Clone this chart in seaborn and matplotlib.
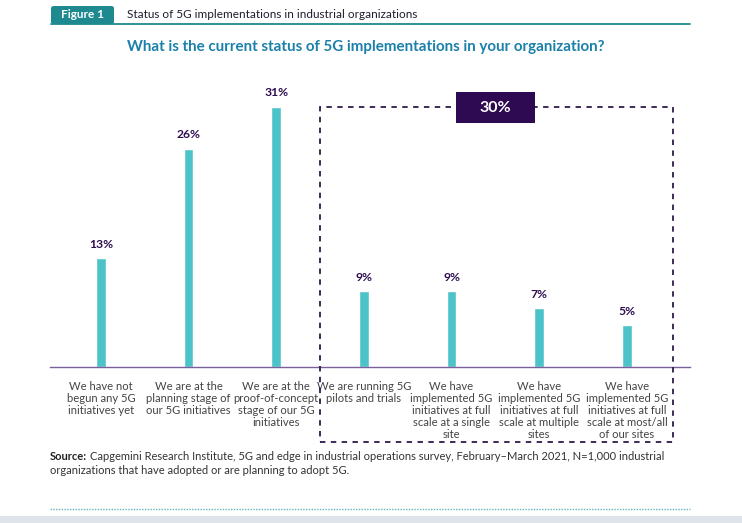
import matplotlib
matplotlib.use("Agg")
import matplotlib.pyplot as plt
import matplotlib.patches as mpatches
import matplotlib.transforms as mtransforms
from matplotlib.lines import Line2D
import seaborn as sns
import pandas as pd

categories = [
    "We have not\nbegun any 5G\ninitiatives yet",
    "We are at the\nplanning stage of\nour 5G initiatives",
    "We are at the\nproof-of-concept\nstage of our 5G\ninitiatives",
    "We are running 5G\npilots and trials",
    "We have\nimplemented 5G\ninitiatives at full\nscale at a single\nsite",
    "We have\nimplemented 5G\ninitiatives at full\nscale at multiple\nsites",
    "We have\nimplemented 5G\ninitiatives at full\nscale at most/all\nof our sites",
]
values = [13, 26, 31, 9, 9, 7, 5]
group_label = "30%"

sns.set_theme(style="white")
plt.rcParams['font.family'] = ['Lato', 'DejaVu Sans']

W, H = 742, 523
fig = plt.figure(figsize=(W / 100, H / 100), dpi=100)

def fx(px):
    return px / W

def fy(py):
    return 1 - py / H

ax = fig.add_axes([fx(50), fy(367), fx(690) - fx(50), fy(80) - fy(367)])
df = pd.DataFrame({"cat": categories, "val": values})
sns.barplot(data=df, x="cat", y="val", color="#4cc3c9", width=0.11,
            saturation=1, ax=ax)
ax.set_xlim(-0.58, 6.72)
ax.set_ylim(0, 34.2)
for s in ["top", "right", "left"]:
    ax.spines[s].set_visible(False)
ax.spines["bottom"].set_color("#7a5f9a")
ax.spines["bottom"].set_linewidth(1.0)
ax.set_yticks([])
ax.set_xticks([])
ax.set_xlabel("")
ax.set_ylabel("")

# category labels, line by line
trans = mtransforms.blended_transform_factory(ax.transData, fig.transFigure)
for i, cat in enumerate(categories):
    for k, line in enumerate(cat.split("\n")):
        ax.text(i, fy(386 + 12.2 * k), line, transform=trans, ha="center",
                va="center", fontsize=8.1, color="#444444", clip_on=False)

for i, v in enumerate(values):
    ax.text(i, v + 1.0, f"{v}%", ha="center", va="bottom", fontsize=8.7,
            fontweight="bold", color="#2e0d50")

# dashed group box
box = mpatches.Rectangle((fx(320), fy(442)), fx(673) - fx(320), fy(107) - fy(442),
                         transform=fig.transFigure, fill=False,
                         edgecolor="#2e1a4a", linestyle=(0, (3, 3)), linewidth=1.3)
fig.add_artist(box)
lab = mpatches.Rectangle((fx(456), fy(123)), fx(535) - fx(456), fy(92) - fy(123),
                         transform=fig.transFigure, facecolor="#2e0a52",
                         edgecolor="none")
fig.add_artist(lab)
fig.text(fx(495.5), fy(107.5), group_label, ha="center", va="center",
         color="white", fontsize=11.5, fontweight="bold")

# header
tab = mpatches.FancyBboxPatch((fx(51), fy(24)), fx(114) - fx(51), fy(6) - fy(24),
                              boxstyle="round,pad=0,rounding_size=0.004",
                              transform=fig.transFigure, facecolor="#1e8a8f",
                              edgecolor="none")
fig.add_artist(tab)
fig.text(fx(82.5), fy(15), "Figure 1", ha="center", va="center", color="white",
         fontsize=8.5, fontweight="bold")
fig.add_artist(Line2D([fx(51), fx(690)], [fy(24), fy(24)],
                      transform=fig.transFigure, color="#1e8a8f", linewidth=1.3))
fig.text(fx(127), fy(14.5), "Status of 5G implementations in industrial organizations",
         ha="left", va="center", color="#1d1d2e", fontsize=8.5)
fig.text(fx(366), fy(47), "What is the current status of 5G implementations in your organization?",
         ha="center", va="center", color="#1b80aa", fontsize=10.9, fontweight="bold")

# source
src_bold = fig.text(fx(50), fy(456), "Source:", ha="left", va="center",
                    color="#222222", fontsize=8.0, fontweight="bold")
fig.canvas.draw()
bb = src_bold.get_window_extent(renderer=fig.canvas.get_renderer())
fig.text(bb.x1 / W + fx(3), fy(456),
         "Capgemini Research Institute, 5G and edge in industrial operations survey, February–March 2021, N=1,000 industrial",
         ha="left", va="center", color="#333333", fontsize=8.0)
fig.text(fx(50), fy(470.5), "organizations that have adopted or are planning to adopt 5G.",
         ha="left", va="center", color="#333333", fontsize=8.0)
fig.add_artist(Line2D([fx(50), fx(690)], [fy(509), fy(509)],
                      transform=fig.transFigure, color="#5fb8bb",
                      linestyle=(0, (1, 1)), linewidth=1.0))
fig.add_artist(mpatches.Rectangle((0, 0), 1, fy(516), transform=fig.transFigure,
                                  facecolor="#dfe3ea", edgecolor="none"))

fig.savefig("out.png", dpi=100)
